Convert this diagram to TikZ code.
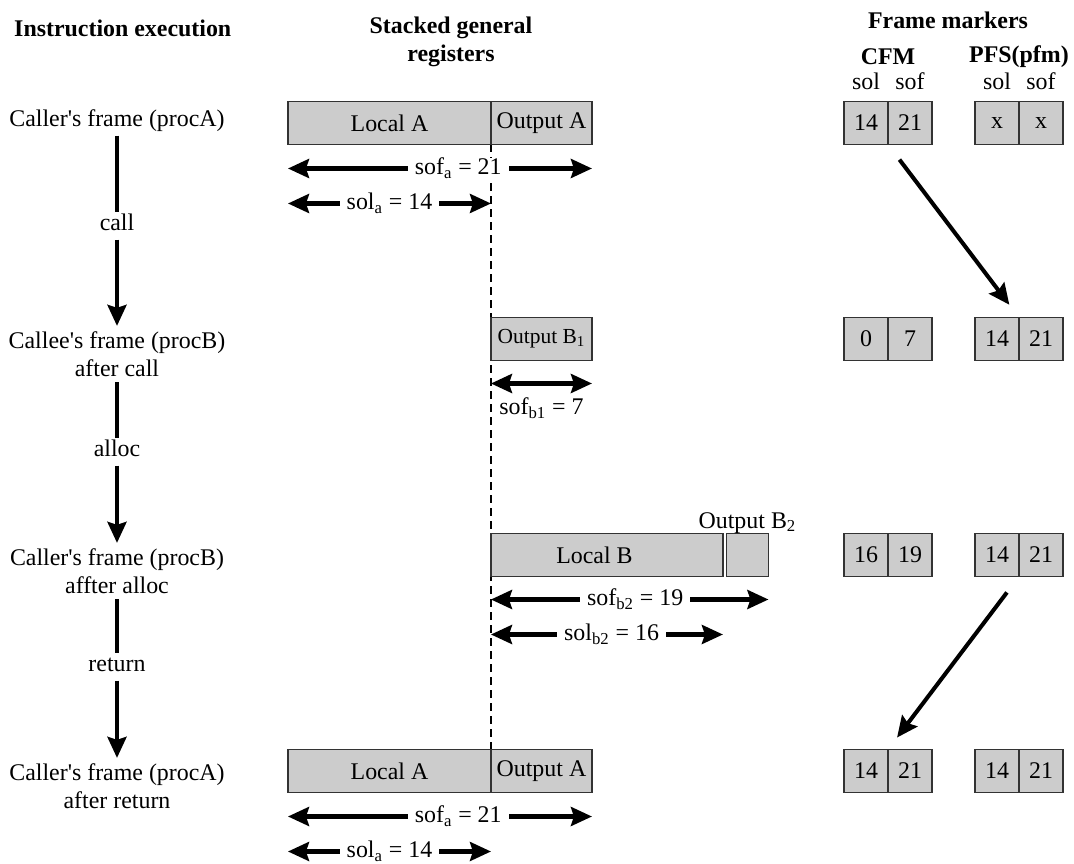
\documentclass[tikz,border=0pt]{standalone}
\usepackage{fontspec}
\setmainfont{Liberation Serif}
\usetikzlibrary{arrows.meta}
\usetikzlibrary{positioning}
\usetikzlibrary{backgrounds}

\newcommand{\regfont}{\fontsize{13.6pt}{15.9pt}\selectfont}
\newcommand{\boxfont}{\fontsize{12.2pt}{14pt}\selectfont}

\tikzset{
  bighead/.tip={Stealth[length=0.42cm, width=0.38cm, inset=0.06cm]},
  regbox/.style={draw=black!80, fill=black!20, line width=0.8pt, outer sep=0pt,
    minimum height=0.86cm, inner sep=1pt, anchor=west},
  mcell/.style={regbox, minimum width=0.88cm},
  hdr/.style={font=\regfont\bfseries},
  evlabel/.style={inner sep=3pt, text height=0.7em, text depth=0.2em},
  flow/.style={line width=2.3pt},
  flowarr/.style={flow, -bighead},
  dimarr/.style={flow, bighead-bighead},
  dimlabel/.style={fill=white, inner xsep=4pt, inner ysep=0pt},
  split/.style={dash pattern=on 0.16cm off 0.1cm, line width=0.8pt}
}

\begin{document}
\begin{tikzpicture}[x=0.02cm, y=-0.02cm, every node/.style={font=\regfont}]
\useasboundingbox (0,0) rectangle (1074,864);

% headings
\node[hdr, anchor=west] (hexec) at (8,28) {Instruction execution};
\node[hdr, align=center] (hregs) at (451,42) {Stacked general\\registers};
\node[hdr] (hfm) at (948,20) {Frame markers};

% instruction flow
\node[evlabel] (ev1) at (117,122) {Caller\textquotesingle s frame (procA)};
\node[evlabel] (call) at (117,226) {call};
\node[align=center, inner sep=3pt] (ev2) at (117,354) {Callee\textquotesingle s frame (procB)\\after call};
\node[evlabel] (alloc) at (117,452) {alloc};
\node[align=center, inner sep=3pt] (ev3) at (117,571) {Caller\textquotesingle s frame (procB)\\affter alloc};
\node[evlabel] (ret) at (117,667) {return};
\node[align=center, inner sep=3pt] (ev4) at (117,786) {Caller\textquotesingle s frame (procA)\\after return};
\draw[flow] (ev1) -- (call);
\draw[flowarr] (call) -- (ev2);
\draw[flow] (ev2) -- (alloc);
\draw[flowarr] (alloc) -- (ev3);
\draw[flow] (ev3) -- (ret);
\draw[flowarr] (ret) -- (ev4);

% stacked registers, procA frames
\foreach \k/\yy in {1/123, 4/771} {
  \node[regbox, minimum width=4.06cm] (locA\k) at (288,\yy) {Local A};
  \node[regbox, minimum width=2.02cm] (outA\k) at (locA\k.east) {Output A};
  \path (locA\k.south west) ++(0,24) coordinate (sofAl\k) ++(0,35) coordinate (solAl\k);
  \coordinate (sofAr\k) at (outA\k.east |- sofAl\k);
  \coordinate (solAr\k) at (locA\k.east |- solAl\k);
  \draw[dimarr] (sofAl\k) -- (sofAr\k) node[dimlabel, pos=0.56] (lsofA\k) {sof\textsubscript{a} = 21};
  \draw[dimarr] (solAl\k) -- (solAr\k) node[dimlabel, midway] (lsolA\k) {sol\textsubscript{a} = 14};
}

% procB after call
\node[regbox, minimum width=2.02cm, font=\boxfont] (outB1) at (locA1.east |- 0,339) {Output B\textsubscript{1}};
\path (outB1.south west) ++(0,23) coordinate (sofBl1);
\coordinate (sofBr1) at (outB1.east |- sofBl1);
\draw[dimarr] (sofBl1) -- (sofBr1) node[midway, below=6pt, inner sep=1pt] (lsofB1) {sof\textsubscript{b1} = 7};

% procB after alloc
\node[regbox, minimum width=4.64cm] (locB) at (locA1.east |- 0,555) {\hspace*{-0.5cm}Local B};
\node[regbox, minimum width=0.84cm, right=0.07cm of locB] (outB2) {};
\node[above=0pt of outB2, inner sep=0pt] (loutB2) {Output B\textsubscript{2}};
\path (locB.south west) ++(0,23) coordinate (sofBl2) ++(0,35) coordinate (solBl2);
\coordinate (sofBr2) at (outB2.east |- sofBl2);
\coordinate (solBr2) at (locB.east |- solBl2);
\draw[dimarr] (sofBl2) -- (sofBr2) node[dimlabel, pos=0.52] (lsofB2) {sof\textsubscript{b2} = 19};
\draw[dimarr] (solBl2) -- (solBr2) node[dimlabel, pos=0.52] (lsolB2) {sol\textsubscript{b2} = 16};

\begin{scope}[on background layer]
\draw[split] (locA1.south east) -- (locA4.north east);
\end{scope}

% frame markers
\foreach \row/\yy/\vcl/\vcf/\vpl/\vpf in {1/123/14/21/x/x, 2/339/0/7/14/21, 3/555/16/19/14/21, 4/771/14/21/14/21} {
  \node[mcell] (cfmsol\row) at (844,\yy) {\vcl};
  \node[mcell] (cfmsof\row) at (cfmsol\row.east) {\vcf};
  \node[mcell] (pfssol\row) at (975,\yy) {\vpl};
  \node[mcell] (pfssof\row) at (pfssol\row.east) {\vpf};
}
\node[hdr, inner sep=0pt] (hcfm) at (cfmsol1.east |- 0,57) {CFM};
\node[hdr, inner sep=0pt] (hpfs) at (pfssol1.east |- 0,57) {PFS(pfm)};
\foreach \m in {cfm, pfs} {
  \node[inner sep=0pt] (\m sl) at (\m sol1 |- 0,81) {sol};
  \node[inner sep=0pt] (\m sf) at (\m sof1 |- 0,81) {sof};
}
\draw[flowarr, shorten <=0.38cm, shorten >=0.32cm] (cfmsof1.south west) -- (pfssof2.north west);
\draw[flowarr, shorten <=0.4cm, shorten >=0.3cm] (pfssof3.south west) -- (cfmsof4.north west);
\end{tikzpicture}
\end{document}
